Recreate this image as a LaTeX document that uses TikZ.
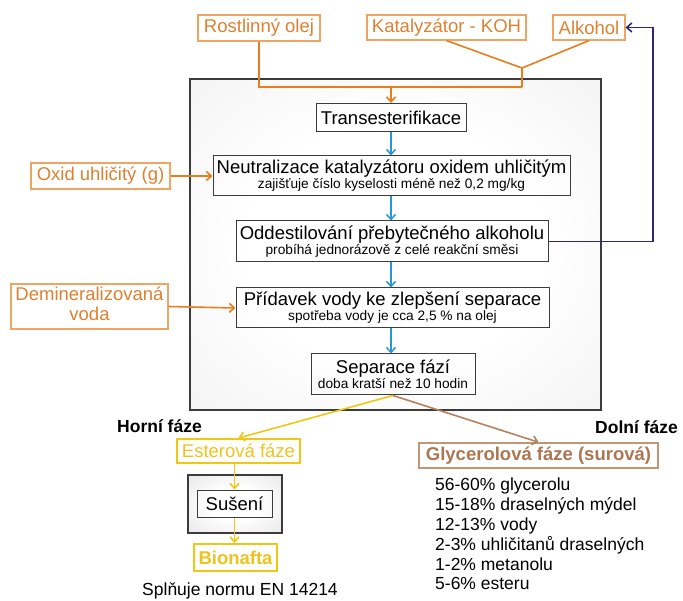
\documentclass[tikz,border=0pt]{standalone}
\usepackage{fontspec}
\usepackage{graphicx}
\setmainfont{Liberation Sans}
\usetikzlibrary{arrows.meta,shadings}
\definecolor{orL}{RGB}{232,125,30}
\definecolor{orT}{RGB}{222,128,48}
\definecolor{orB}{RGB}{238,165,100}
\definecolor{bluA}{RGB}{40,150,210}
\definecolor{navy}{RGB}{40,40,120}
\definecolor{yelL}{RGB}{240,200,20}
\definecolor{yelT}{RGB}{236,196,30}
\definecolor{brL}{RGB}{180,130,95}
\definecolor{brT}{RGB}{172,118,82}
\definecolor{brB}{RGB}{195,150,115}
\definecolor{boxG}{RGB}{60,60,60}
\pgfdeclareradialshading{bigsh}{\pgfpoint{0bp}{0bp}}{color(0bp)=(white); color(18bp)=(white); color(50bp)=(black!8); color(72bp)=(black!14)}
\pgfdeclareradialshading{smallsh}{\pgfpoint{0bp}{0bp}}{color(0bp)=(white); color(14bp)=(white); color(50bp)=(black!15); color(72bp)=(black!24)}
\newcommand{\bigf}{\fontsize{18.5}{21}\selectfont}
\newcommand{\smallf}{\fontsize{13.7}{16.5}\selectfont}
\newcommand{\listf}{\fontsize{17.5}{19.8}\selectfont}
\begin{document}
\begin{tikzpicture}[x=1pt,y=-1pt,
  lbl/.style={draw=orB, line width=1.2pt, text=orT, font=\bigf, inner sep=0, align=center},
  stepbox/.style={draw=boxG, line width=1pt, align=center, inner sep=0},
  bigbox/.style={draw=boxG, line width=2pt, inner sep=0, shading=bigsh},
  orline/.style={draw=orL, line width=1.6pt},
  tipv/.style={-{Straight Barb[length=5pt,width=9pt]}},
  bluearrow/.style={draw=bluA, line width=1.5pt, tipv},
  yelbox/.style={draw=yelL, line width=2pt, text=yelT, font=\bigf, inner sep=0},
]
\useasboundingbox (0,0) rectangle (683,601);

% big process box
\node[bigbox, minimum width=411, minimum height=331] (proc) at (395.5,244.5) {};

% top inputs
\node[lbl, minimum width=122, minimum height=26] (rost) at (259,28) {Rostlinný olej};
\node[lbl, minimum width=159, minimum height=25] (koh) at (446.5,27.5) {Katalyzátor - KOH};
\node[lbl, minimum width=72, minimum height=25] (alk) at (589,27.5) {Alkohol};
\node[lbl, minimum width=139, minimum height=26] (oxid) at (100.5,176) {Oxid uhličitý (g)};
\node[draw=orB, line width=1.2pt, text=orT, inner sep=0, minimum width=157, minimum height=45] (demi) at (89.5,306.5)
  {\bigf\renewcommand{\arraystretch}{0.9}\begin{tabular}{@{}c@{}}\resizebox{148pt}{\height}{Demineralizovaná}\\voda\end{tabular}};

% steps
\node[stepbox, minimum width=150, minimum height=28, font=\bigf] (trans) at (391,117.5) {Transesterifikace};
\node[stepbox, minimum width=357, minimum height=40] (neut) at (391.5,176)
  {\bigf Neutralizace katalyzátoru oxidem uhličitým\\\smallf zajišťuje číslo kyselosti méně než 0,2 mg/kg};
\node[stepbox, minimum width=312, minimum height=41] (odd) at (392,241.5)
  {\bigf Oddestilování přebytečného alkoholu\\\smallf probíhá jednorázově z celé reakční směsi};
\node[stepbox, minimum width=313, minimum height=40] (prid) at (392.5,308)
  {\bigf Přídavek vody ke zlepšení separace\\\smallf spotřeba vody je cca 2,5 \% na olej};
\node[stepbox, minimum width=164, minimum height=41] (sep) at (393,374.5)
  {\bigf Separace fází\\\smallf doba kratší než 10 hodin};

% input lines
\coordinate (j) at (522,68);
\coordinate (jb) at (522,87);
\coordinate (m) at (391,87);
\draw[orline] (rost.south) |- (jb);
\draw[orline] (koh.south) -- (j);
\draw[orline] (alk.south) -- (j);
\draw[orline] (j) -- (jb);
\draw[orline, tipv] (m) -- (trans.north);
\draw[orline, tipv] (oxid.east) -- (neut.west);
\draw[orline, tipv] (demi.east) -- (prid.west);

% blue arrows
\draw[bluearrow] (trans.south) -- (trans.south |- neut.north);
\draw[bluearrow] (trans.south |- neut.south) -- (trans.south |- odd.north);
\draw[bluearrow] (trans.south |- odd.south) -- (trans.south |- prid.north);
\draw[bluearrow] (trans.south |- prid.south) -- (trans.south |- sep.north);

% recycle alcohol
\coordinate (rc) at (653,241.5);
\draw[navy, line width=1.6pt, tipv] (odd.east) -- (rc) |- (alk.east);

% phases
\node[font=\bfseries\listf, anchor=west, inner sep=0] (horni) at (117,426) {Horní fáze};
\node[font=\bfseries\listf, anchor=west, inner sep=0] (dolni) at (595,427) {Dolní fáze};

\node[yelbox, minimum width=123, minimum height=24] (ester) at (238.5,451) {Esterová fáze};
\node[draw=boxG, line width=1.8pt, inner sep=0, shading=smallsh, minimum width=94, minimum height=58] (susbox) at (235,504) {};
\node[stepbox, minimum width=75, minimum height=27, font=\bigf] (susen) at (234.5,503.5) {Sušení};
\node[yelbox, minimum width=83, minimum height=27, font=\bfseries\bigf] (bio) at (235.5,557.5) {Bionafta};
\node[font=\listf, inner sep=0] (norma) at (240,591) {Splňuje normu EN 14214};

\node[draw=brB, line width=1.6pt, text=brT, font=\bfseries\bigf, inner sep=0,
  minimum width=239, minimum height=25] (glyc) at (538.5,455.5) {Glycerolová fáze (surová)};

\node[font=\listf, align=left, anchor=north west, inner sep=0] (slozeni) at (435,478)
  {56-60\% glycerolu\\15-18\% draselných mýdel\\12-13\% vody\\2-3\% uhličitanů draselných\\1-2\% metanolu\\5-6\% esteru};

\draw[yelL, line width=1.6pt, tipv] (sep.south) -- (ester.north);
\draw[brL, line width=1.6pt, tipv] (sep.south) -- (glyc.north);
\draw[yelL, line width=1.6pt, tipv] (ester.south -| susen.north) -- (susen.north);
\draw[yelL, line width=1.6pt, tipv] (susen.south) -- (susen.south |- bio.north);
\end{tikzpicture}
\end{document}
